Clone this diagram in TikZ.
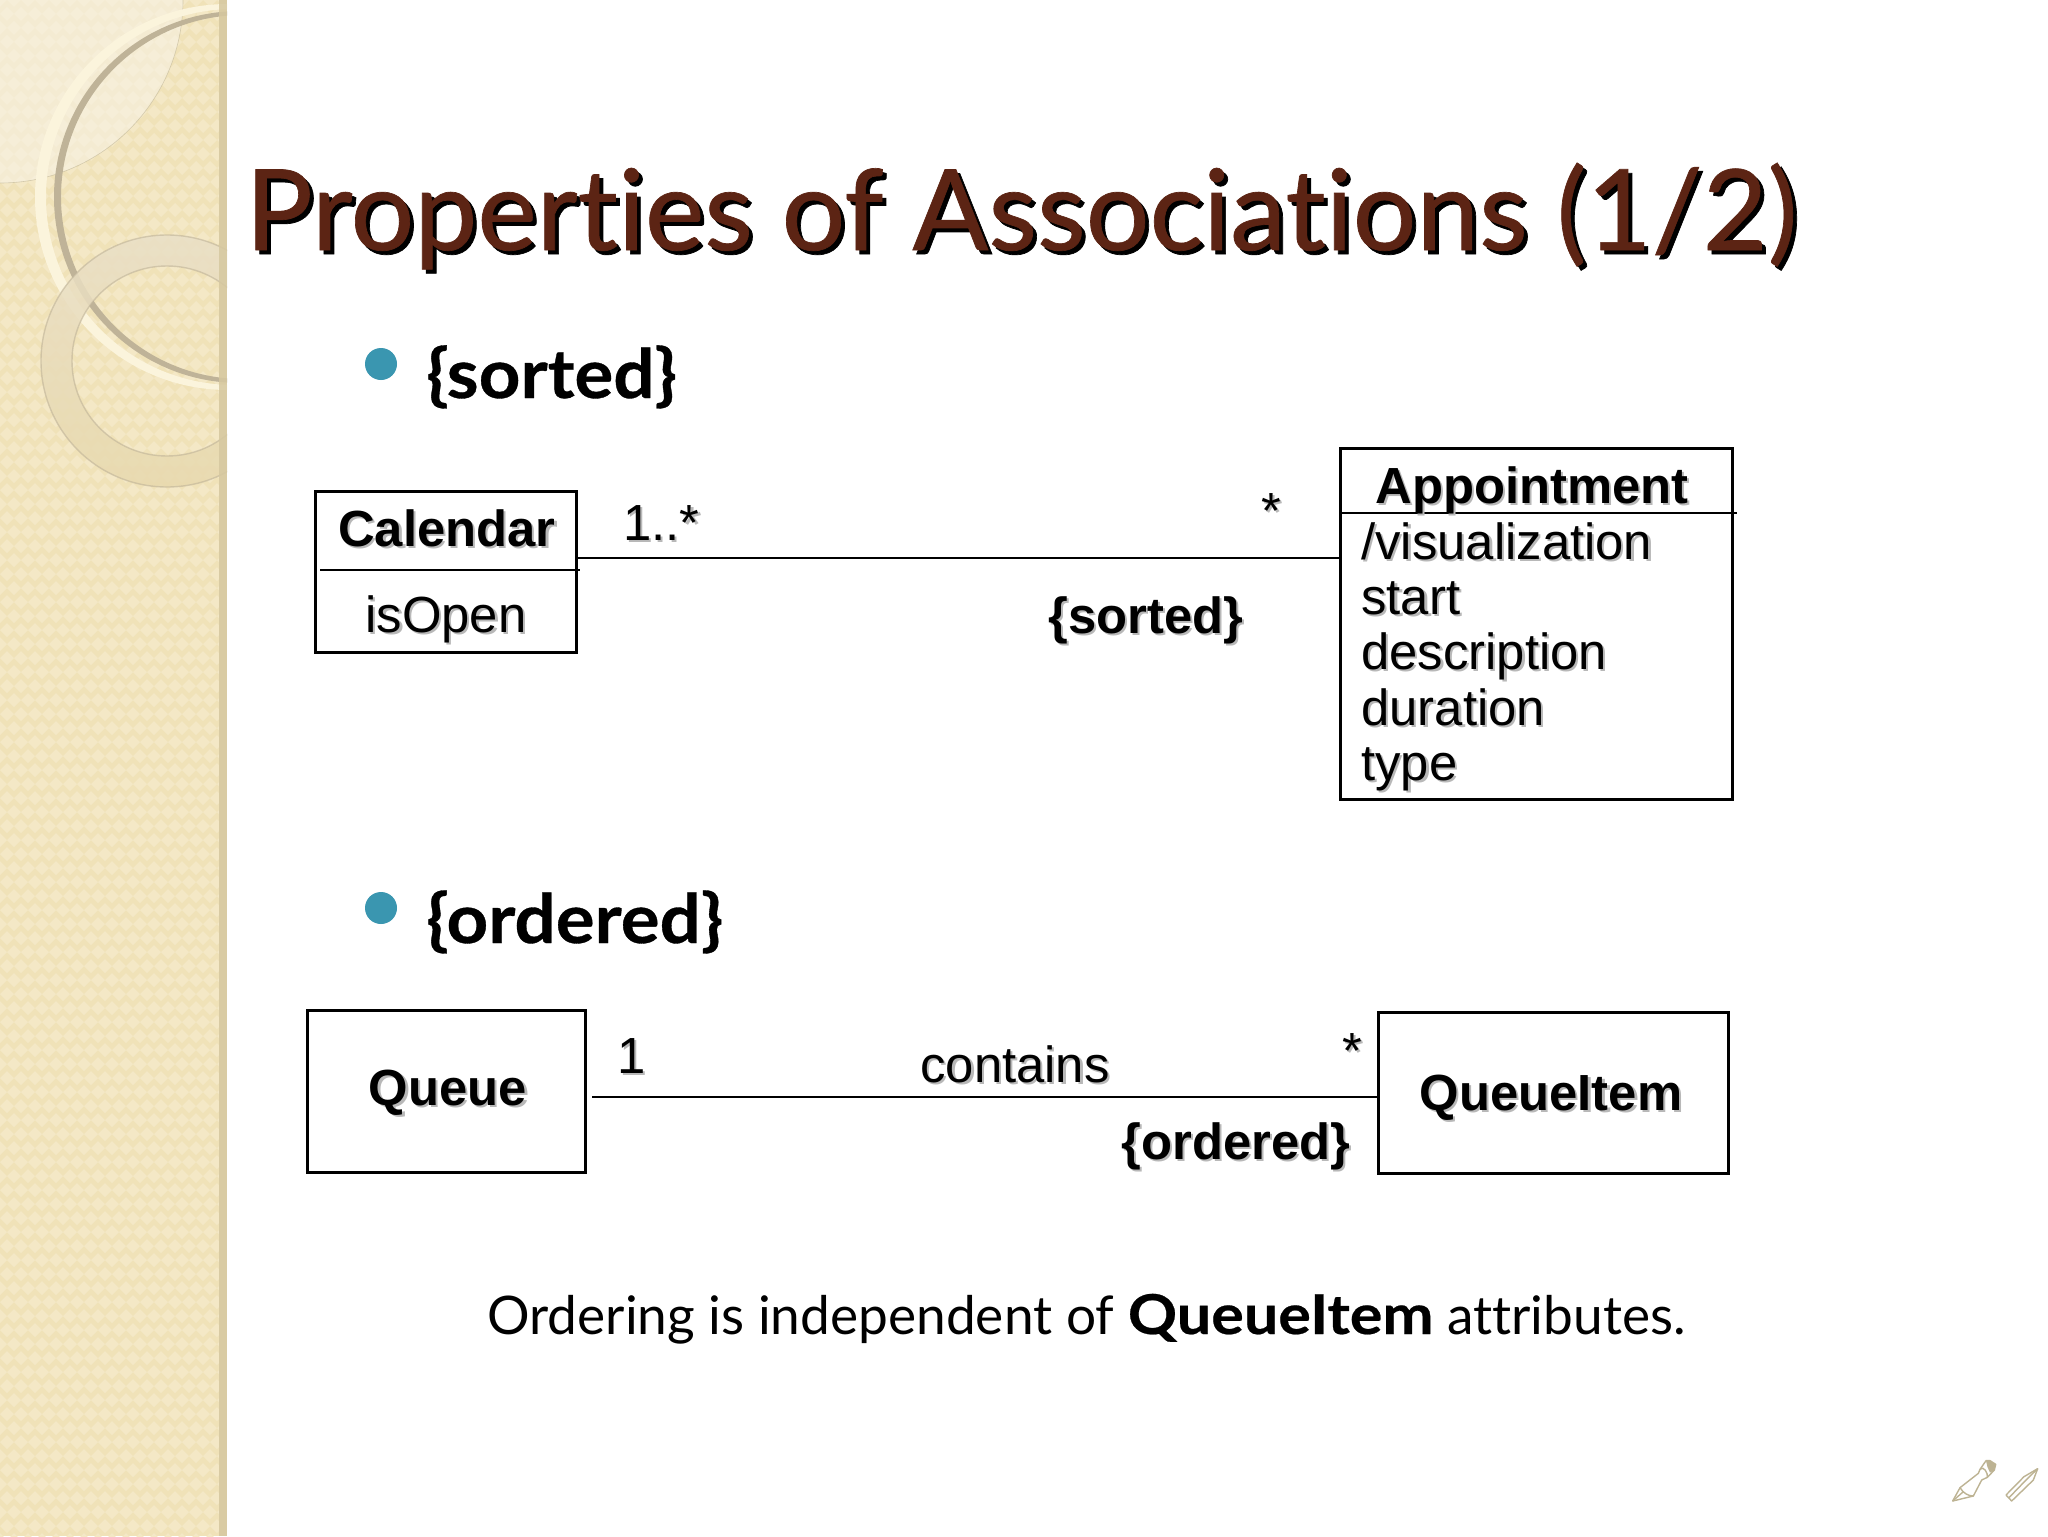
\documentclass[tikz,border=0pt]{standalone}
\usepackage{fontspec}
\setmainfont{Liberation Sans}
\newfontfamily\gill[Ligatures=NoCommon]{Lato}
\usetikzlibrary{calc}
\definecolor{bandbase}{HTML}{F0E2B8}
\definecolor{bandlight}{HTML}{F4E8C6}
\definecolor{bandedge}{HTML}{D6C8A0}
\definecolor{cornerc}{HTML}{F8F2E4}
\definecolor{ringdark}{HTML}{BFB398}
\definecolor{ringlight}{HTML}{FBF4DC}
\definecolor{ringtop}{HTML}{E9DFC6}
\definecolor{ringbot}{HTML}{E8D9AE}
\definecolor{titlec}{HTML}{5C2414}
\definecolor{bulletc}{HTML}{3A96B0}
\definecolor{penc}{HTML}{BDB393}
\newcommand{\shtxt}[2][1.1pt]{\leavevmode\rlap{\raisebox{-#1}{\hspace{#1}\textcolor{black!28}{#2}}}#2}
\tikzset{
  umlbox/.style={draw=black,line width=1.5pt,fill=white,inner sep=0pt,minimum width={(#1)*0.5pt}},
  wire/.style={draw=black,line width=1.3pt},
  lbl/.style={inner sep=0pt,font=\fontsize{25.4pt}{27.5pt}\selectfont},
  blbl/.style={inner sep=0pt,font=\fontsize{25.4pt}{27.5pt}\selectfont\bfseries},
  head/.style={inner sep=0pt,font=\gill\fontsize{34pt}{38pt}\selectfont\bfseries\addfontfeature{FakeStretch=1.07,FakeBold=0.5}},
  bul/.style={circle,fill=bulletc,inner sep=0pt,minimum size=16pt},
  pen/.style={draw=penc,line width=0.7pt,line join=round}
}
\begin{document}
\begin{tikzpicture}[x=0.5pt,y=-0.5pt]
\useasboundingbox (0,0) rectangle (2048,1536);
\fill[white] (0,0) rectangle (2048,1536);
% side band
\fill[bandbase] (0,0) rectangle (227,1536);
\begin{scope}
\clip (0,0) rectangle (219,1536);
\foreach \i in {0,...,16}{\foreach \j in {0,...,110}{
  \fill[bandlight] ({\i*14+mod(\j,2)*7},{\j*14-7}) -- ++(7,7) -- ++(-7,7) -- ++(-7,-7) -- cycle;
}}
\end{scope}
\begin{scope}
\clip (0,0) rectangle (227,1536);
\fill[cornerc,fill opacity=.6] (0,0) circle (183);
\draw[penc,line width=0.3pt,opacity=.6] (0,0) circle (183);
\fill[ringlight,even odd rule] (228,197) circle (193) (234,197) circle (188);
\fill[ringdark,even odd rule] (240,197) circle (186) (243,197) circle (182);
\shade[even odd rule,top color=ringtop,bottom color=ringbot,fill opacity=0.85]
  (167,361) circle (126) (167,361) circle (95);
\draw[ringdark,line width=0.7pt,opacity=.6] (167,361) circle (126) (167,361) circle (95);
\end{scope}
\fill[bandedge,fill opacity=.85] (219,0) rectangle (227,1536);
% title
\node[inner sep=0pt,anchor=base west] (title) at (245,250)
  {\gill\fontsize{56.2pt}{60pt}\selectfont\addfontfeature{FakeBold=0.6}\rlap{\raisebox{-2pt}{\hspace{2pt}\textcolor{black}{Properties of Associations (1/2)}}}\textcolor{titlec}{Properties of Associations (1/2)}};
% bullets
\node[bul] (b1) at (381,364) {};
\node[head,anchor=base west] (h1) at (426,398) {\{sorted\}};
\node[bul] (b2) at (381,908) {};
\node[head,anchor=base west] (h2) at (426,943) {\{ordered\}};
% class boxes
\node[umlbox=261,minimum height=80.5pt] (cal) at (446,571.5) {};
\draw[wire] (320,570) -- (580,570);
\node[blbl] (calname) at (447,529) {\shtxt{Calendar}};
\node[lbl] (calattr) at (446,620) {\shtxt{isOpen}};
\node[umlbox=392,minimum height=175.5pt] (appt) at (1536,624) {};
\draw[wire] (1342,513) -- (1737,513);
\node[blbl,anchor=base west] (apptname) at (1375,503) {\shtxt{Appointment}};
\node[lbl,anchor=base west] (a1) at (1361,559) {\shtxt{/visualization}};
\node[lbl,anchor=base west] (a2) at (1361,614) {\shtxt{start}};
\node[lbl,anchor=base west] (a3) at (1361,669) {\shtxt{description}};
\node[lbl,anchor=base west] (a4) at (1361,725) {\shtxt{duration}};
\node[lbl,anchor=base west] (a5) at (1361,780) {\shtxt{type}};
% association 1
\coordinate (r1) at (0,558);
\draw[wire] (cal.east |- r1) -- (appt.west |- r1);
\node[lbl,anchor=base west] (m1) at (623,540) {\shtxt{1..*}};
\node[lbl,anchor=base west] (m2) at (1261,528) {\shtxt{*}};
\node[blbl] (s1) at (1146,621) {\shtxt{\{sorted\}}};
% queue
\node[umlbox=278,minimum height=81pt] (q) at (446.5,1091) {};
\node[umlbox=350,minimum height=80.5pt] (qi) at (1553,1092.5) {};
\node[blbl] (qname) at (448,1094) {\shtxt{Queue}};
\node[blbl] (qiname) at (1551,1099) {\shtxt{QueueItem}};
\coordinate (r2) at (592,1097);
\draw[wire] (r2) -- (qi.west |- r2);
\node[lbl,anchor=base west] (m3) at (617,1073) {\shtxt{1}};
\node[lbl] (cont) at (1015,1065) {\shtxt{contains}};
\node[lbl,anchor=base west] (m4) at (1342,1068) {\shtxt{*}};
\node[blbl] (s2) at (1236,1147) {\shtxt{\{ordered\}}};
% footer
\node[inner sep=0pt,anchor=base west,font=\gill\fontsize{26.6pt}{30pt}\selectfont] (foot) at (487,1334)
  {Ordering is independent of {\fontsize{27.5pt}{30pt}\selectfont\bfseries\addfontfeature{FakeStretch=1.11,FakeBold=0.4}QueueItem} attributes.};
% pen icons
\begin{scope}[shift={(1900,1420)},scale=0.3333]
\draw[pen,fill=white] (158,243) -- (180,203) -- (235,160) -- (240,148) -- (258,122) -- (270,122) -- (287,133) -- (283,150) -- (262,172) -- (245,180) -- (220,228) -- cycle;
\fill[penc] (258,122) -- (270,122) -- (287,133) -- (283,150) -- (270,158) -- (262,140) -- cycle;
\draw[pen] (158,243) -- (190,215) (180,203) .. controls (190,220) and (205,228) .. (220,228);
\draw[pen] (240,148) .. controls (250,135) and (265,160) .. (262,172);
\draw[pen,fill=white] (318,225) -- (372,170) -- (413,146) -- (400,180) -- (335,243) -- cycle;
\draw[pen] (326,234) -- (380,178) -- (413,146);
\end{scope}
\end{tikzpicture}
\end{document}
